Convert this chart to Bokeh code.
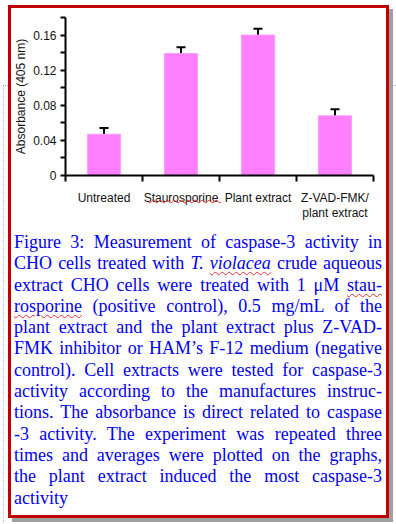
from bokeh.plotting import figure
from bokeh.layouts import column
from bokeh.models import Div, FixedTicker, Whisker, ColumnDataSource, Range1d, TeeHead
from bokeh.embed import file_html
from bokeh.resources import INLINE

categories = ["Untreated", "Staurosporine", "Plant extract", "Z-VAD-FMK/\nplant extract"]
absorbance = [0.047, 0.139, 0.160, 0.068]
errors = [0.007, 0.007, 0.0072, 0.0075]
y_major_ticks = [0, 0.04, 0.08, 0.12, 0.16]
y_tick_labels = ["0", "0.04", "0.08", "0.12", "0.16"]
y_minor_ticks = [0.02, 0.06, 0.10, 0.14, 0.18]

caption_lines = [
    "Figure 3: Measurement of caspase-3 activity in",
    "CHO cells treated with <i>T. <span class='sp'>violacea</span></i> crude aqueous",
    "extract CHO cells were treated with 1 μM <span class='sp'>stau-</span>",
    "<span class='sp'>rosporine</span> (positive control), 0.5 mg/mL of the",
    "plant extract and the plant extract plus Z-VAD-",
    "FMK inhibitor or HAM’s F-12 medium (negative",
    "control). Cell extracts were tested for caspase-3",
    "activity according to the manufactures instruc-",
    "tions. The absorbance is direct related to caspase",
    "-3 activity. The experiment was repeated three",
    "times and averages were plotted on the graphs,",
    "the plant extract induced the most caspase-3",
    "activity",
]

xs = [i + 0.5 for i in range(len(categories))]
src = ColumnDataSource(dict(
    x=xs, top=absorbance,
    upper=[v + e for v, e in zip(absorbance, errors)],
    lower=[v - e for v, e in zip(absorbance, errors)],
))

p = figure(width=375, height=215, x_range=Range1d(0, len(categories)), y_range=Range1d(0, 0.18),
           output_backend="svg", toolbar_location=None,
           min_border_left=59, min_border_right=8, min_border_top=9, min_border_bottom=48)
p.grid.visible = False
p.outline_line_color = None
p.background_fill_color = "white"
p.border_fill_color = "white"

p.vbar(x="x", top="top", width=0.43, bottom=0, source=src,
       fill_color="#ff80ff", line_color="#ff9cff", line_width=1)
w = Whisker(base="x", upper="upper", lower="lower", source=src, line_color="black", line_width=2,
            upper_head=TeeHead(size=9, line_width=2, line_color="black"),
            lower_head=TeeHead(size=9, line_width=2, line_color="black"))
p.add_layout(w)

yax = p.yaxis[0]
yax.ticker = FixedTicker(ticks=y_major_ticks, minor_ticks=y_minor_ticks)
yax.major_label_overrides = {t: l for t, l in zip(y_major_ticks, y_tick_labels)}
yax.axis_label = "Absorbance (405 nm)"
yax.axis_label_text_font = "Liberation Sans"
yax.axis_label_text_font_size = "12px"
yax.axis_label_text_font_style = "normal"
yax.axis_label_text_color = "#111111"
yax.axis_label_standoff = 2
yax.major_label_text_font = "Liberation Sans"
yax.major_label_text_font_size = "12px"
yax.major_label_text_color = "#111111"
yax.major_label_standoff = 4
yax.axis_line_width = 2
yax.major_tick_line_width = 2
yax.minor_tick_line_width = 2
yax.major_tick_out = 5
yax.major_tick_in = 0
yax.minor_tick_out = 5
yax.minor_tick_in = 0

xax = p.xaxis[0]
xax.ticker = FixedTicker(ticks=xs, minor_ticks=list(range(len(categories) + 1)))
xax.major_label_overrides = {x: c for x, c in zip(xs, categories)}
xax.major_label_text_font = "Liberation Sans"
xax.major_label_text_font_size = "12px"
xax.major_label_text_color = "#111111"
xax.major_label_text_line_height = 1.1
xax.major_label_standoff = 9
xax.axis_line_width = 2
xax.major_tick_out = 0
xax.major_tick_in = 0
xax.minor_tick_line_width = 2
xax.minor_tick_out = 6
xax.minor_tick_in = 0

line_divs = []
for i, ln in enumerate(caption_lines):
    last = i == len(caption_lines) - 1
    align = "left" if last else "justify"
    line_divs.append(
        f"<div style='text-align:{align};text-align-last:{align};'>{ln}</div>")
html = (
    "<style>.sp{text-decoration:underline wavy #e03030;text-decoration-thickness:1px;"
    "text-underline-offset:2px;}</style>"
    "<div style=\"margin:4px 4px 0 3px;width:368px;font-family:'Liberation Serif';"
    "font-size:18px;line-height:21.3px;color:#0000f0;\">"
    + "".join(line_divs) +
    "</div>"
    "<div style='position:fixed;left:3px;top:85px;width:5px;height:440px;"
    "border-left:1px dotted #9dbbeb;border-top:1px dotted #9dbbeb;pointer-events:none;'></div>"
    "<div style='position:fixed;left:392px;top:85px;width:6px;height:1px;"
    "border-top:1px dotted #9dbbeb;pointer-events:none;'></div>"
    "<div style='position:fixed;left:8px;top:5px;width:375px;height:507px;box-sizing:content-box;"
    "border:3px solid #c00000;box-shadow:4px 4px 0 #a0a0a0;pointer-events:none;'></div>"
    "<div style='position:fixed;left:148px;top:187px;font-family:\"Liberation Sans\";font-size:12px;"
    "line-height:12px;white-space:pre;pointer-events:none;'>"
    "<span style='text-decoration:underline wavy #e03030;text-decoration-thickness:1px;"
    "text-underline-offset:2px;'>" + "\u00a0" * 22 + "</span></div>"
)
cap = Div(text=html, width=375, height=292)

layout = column(p, cap, styles={"margin-left": "6px", "margin-top": "8px", "background": "white"})

open("out.html", "w").write(file_html(layout, INLINE))
